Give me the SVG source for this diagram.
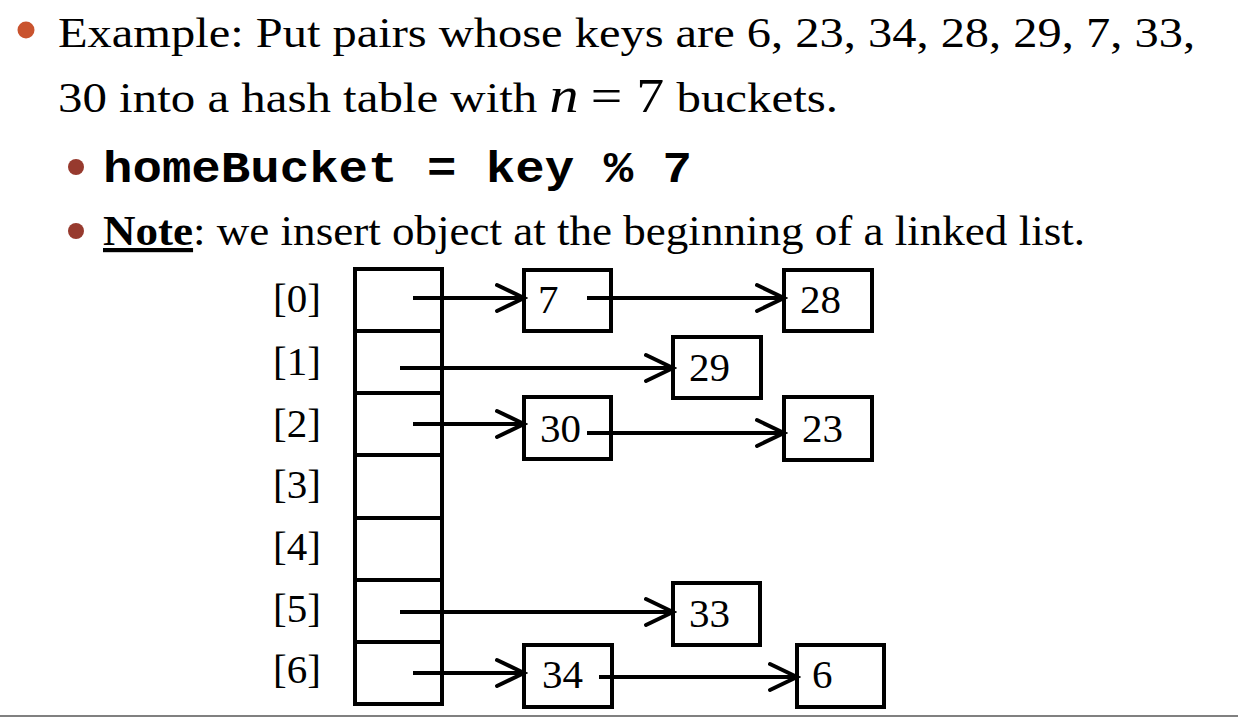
<svg xmlns="http://www.w3.org/2000/svg" width="1238" height="718" viewBox="0 0 1238 718">
<style>
.t{font-family:"Liberation Serif","Times New Roman",serif;fill:#000}
.body{font-size:42px}
.num{font-size:41px}
.mono{font-family:"Liberation Mono","Courier New",monospace;font-weight:bold;font-size:44px;fill:#000}
.box{fill:#fff;stroke:#000;stroke-width:4}
.cell{fill:none;stroke:#000;stroke-width:4}
.link{fill:none;stroke:#000;stroke-width:4;marker-end:url(#chev)}
</style>
<defs>
<marker id="chev" markerUnits="userSpaceOnUse" markerWidth="34" markerHeight="34" viewBox="0 0 34 34" refX="30" refY="17" orient="auto">
<path d="M3,4 L30,17 L3,30" fill="none" stroke="#000" stroke-width="4" stroke-linecap="round" stroke-linejoin="miter"/>
</marker>
</defs>
<rect width="1238" height="718" fill="#fff"/>

<g id="header">
<circle cx="26" cy="30" r="8.5" fill="#C9532E"/>
<text class="t body" x="58" y="47" textLength="1137" lengthAdjust="spacingAndGlyphs">Example: Put pairs whose keys are 6, 23, 34, 28, 29, 7, 33,</text>
<text class="t body" x="58" y="112" textLength="780" lengthAdjust="spacingAndGlyphs">30 into a hash table with <tspan font-style="italic" font-size="50">n</tspan> <tspan font-size="48">= 7</tspan> buckets.</text>
<circle cx="76" cy="167" r="8" fill="#973A2E"/>
<text class="mono" x="103" y="182" textLength="589" lengthAdjust="spacingAndGlyphs">homeBucket = key % 7</text>
<circle cx="76" cy="231" r="8" fill="#973A2E"/>
<text class="t body" x="103" y="245" textLength="982" lengthAdjust="spacingAndGlyphs"><tspan font-weight="bold" text-decoration="underline">Note</tspan>: we insert object at the beginning of a linked list.</text>
</g>

<g id="table">
<rect class="cell" x="355" y="269" width="87" height="435"/>
<line class="cell" x1="355" y1="331" x2="442" y2="331"/>
<line class="cell" x1="355" y1="393" x2="442" y2="393"/>
<line class="cell" x1="355" y1="455" x2="442" y2="455"/>
<line class="cell" x1="355" y1="518" x2="442" y2="518"/>
<line class="cell" x1="355" y1="580" x2="442" y2="580"/>
<line class="cell" x1="355" y1="642" x2="442" y2="642"/>
<text class="t num" x="297" y="312" text-anchor="middle">[0]</text>
<text class="t num" x="297" y="375" text-anchor="middle">[1]</text>
<text class="t num" x="297" y="437" text-anchor="middle">[2]</text>
<text class="t num" x="297" y="498" text-anchor="middle">[3]</text>
<text class="t num" x="297" y="560" text-anchor="middle">[4]</text>
<text class="t num" x="297" y="622" text-anchor="middle">[5]</text>
<text class="t num" x="297" y="683" text-anchor="middle">[6]</text>
</g>

<g id="node7"><rect class="box" x="524" y="270" width="87" height="61"/><text class="t num" x="538" y="313">7</text></g>
<g id="node28"><rect class="box" x="784" y="270" width="88" height="61"/><text class="t num" x="800" y="313">28</text></g>
<g id="node29"><rect class="box" x="673" y="337" width="88" height="61"/><text class="t num" x="689" y="381">29</text></g>
<g id="node30"><rect class="box" x="524" y="397" width="87" height="62"/><text class="t num" x="540" y="442">30</text></g>
<g id="node23"><rect class="box" x="784" y="397" width="88" height="63"/><text class="t num" x="802" y="442">23</text></g>
<g id="node33"><rect class="box" x="673" y="583" width="87" height="62"/><text class="t num" x="689" y="627">33</text></g>
<g id="node34"><rect class="box" x="524" y="645" width="88" height="62"/><text class="t num" x="542" y="688">34</text></g>
<g id="node6"><rect class="box" x="797" y="645" width="87" height="62"/><text class="t num" x="812" y="688">6</text></g>

<g id="connectors">
<line class="link" x1="413" y1="298" x2="524" y2="298"/>
<line class="link" x1="587" y1="298" x2="784" y2="298"/>
<line class="link" x1="400" y1="368" x2="673" y2="368"/>
<line class="link" x1="413" y1="424" x2="524" y2="424"/>
<line class="link" x1="587" y1="433" x2="784" y2="433"/>
<line class="link" x1="400" y1="612" x2="673" y2="612"/>
<line class="link" x1="413" y1="673" x2="524" y2="673"/>
<line class="link" x1="599" y1="677" x2="797" y2="677"/>
</g>

<line id="rule" x1="0" y1="716" x2="1238" y2="716" stroke="#808080" stroke-width="2"/>
</svg>
